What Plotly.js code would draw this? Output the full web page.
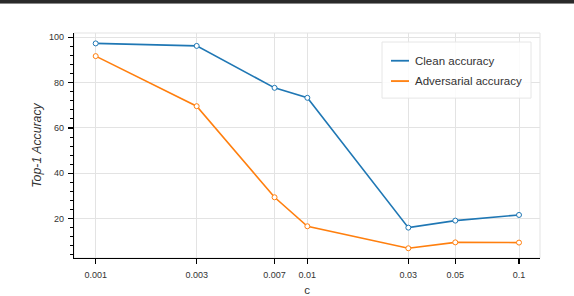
<!DOCTYPE html>
<html>
<head>
<meta charset="utf-8">
<script src="https://cdn.plot.ly/plotly-3.0.1.min.js"></script>
<style>
html,body{margin:0;padding:0;background:#fff;}
#wrap{position:relative;width:574px;height:296px;}
#bar{position:absolute;left:0;top:0;width:574px;height:3px;background:#2a2a2a;border-bottom:1px solid #888;z-index:5;}
#chart{width:574px;height:296px;}
</style>
</head>
<body>
<div id="wrap"><div id="bar"></div><div id="chart"></div></div>
<script>
const cValues = [0.001, 0.003, 0.007, 0.01, 0.03, 0.05, 0.1];
const tickLabels = ['0.001', '0.003', '0.007', '0.01', '0.03', '0.05', '0.1'];
const cleanAcc = [97.3, 96.2, 77.7, 73.3, 16.0, 19.1, 21.6];
const advAcc = [91.7, 69.6, 29.4, 16.6, 6.9, 9.5, 9.4];
const seriesNames = ['Clean accuracy', 'Adversarial accuracy'];
const colors = ['#1f77b4', '#ff7f0e'];

const W = 574, H = 296;
const L = 74, R = 540, T = 33, B = 257.7;
const px = x => (x - L) / (R - L);
const py = y => (B - y) / (B - T);

function trace(y, i) {
  return {
    x: cValues, y: y, name: seriesNames[i], type: 'scatter', mode: 'lines+markers',
    line: {color: colors[i], width: 1.6},
    marker: {symbol: 'circle', size: 5, color: '#ffffff', line: {color: colors[i], width: 1}},
    showlegend: false, cliponaxis: false
  };
}

const font = {family: 'Liberation Sans, Arial, sans-serif', color: '#333'};

const layout = {
  width: W, height: H,
  margin: {l: L, r: W - R, t: T, b: H - B, pad: 0},
  paper_bgcolor: '#fff', plot_bgcolor: '#fff',
  font: font,
  xaxis: {
    type: 'log', range: [-3.1025, -0.9008],
    tickvals: cValues, ticktext: tickLabels,
    showgrid: true, gridcolor: '#e3e3e3', gridwidth: 1,
    zeroline: false, showline: true, linecolor: '#000', linewidth: 1.2,
    ticks: 'outside', ticklen: 5, tickcolor: '#000', tickwidth: 1.2,
    tickfont: {family: font.family, size: 9, color: '#333'},
    ticklabelstandoff: 3,
    title: {text: 'c', font: {family: font.family, size: 11.5, color: '#333'}, standoff: 10}
  },
  yaxis: {
    range: [2.6, 101.9],
    tickvals: [20, 40, 60, 80, 100],
    showgrid: true, gridcolor: '#e3e3e3', gridwidth: 1,
    zeroline: false, showline: true, linecolor: '#000', linewidth: 1.2,
    ticks: 'outside', ticklen: 5, tickcolor: '#000', tickwidth: 1.2,
    minor: {dtick: 4, tick0: 0, ticks: 'outside', ticklen: 2.5, tickcolor: '#000', tickwidth: 1, showgrid: false},
    tickfont: {family: font.family, size: 9, color: '#333'},
    ticklabelstandoff: 2,
    title: {text: '<i>Top-1 Accuracy</i>', font: {family: font.family, size: 12.3, color: '#333'}, standoff: 4}
  },
  shapes: [
    {type: 'rect', xref: 'paper', yref: 'paper', x0: 0, x1: 1, y0: 0, y1: 1,
     line: {color: '#e3e3e3', width: 1}, layer: 'below'},
    {type: 'rect', xref: 'paper', yref: 'paper', x0: px(382), x1: px(531), y0: py(98), y1: py(42),
     line: {color: '#e6e6e6', width: 1}, fillcolor: 'rgba(255,255,255,0.85)', layer: 'above'},
    {type: 'line', xref: 'paper', yref: 'paper', x0: px(391), x1: px(409), y0: py(60.7), y1: py(60.7),
     line: {color: colors[0], width: 1.8}},
    {type: 'line', xref: 'paper', yref: 'paper', x0: px(391), x1: px(409), y0: py(81), y1: py(81),
     line: {color: colors[1], width: 1.8}}
  ],
  annotations: [
    {xref: 'paper', yref: 'paper', x: px(413), y: py(60.7), xanchor: 'left', yanchor: 'middle',
     text: seriesNames[0], showarrow: false, font: {family: font.family, size: 11.5, color: '#333'}},
    {xref: 'paper', yref: 'paper', x: px(413), y: py(81), xanchor: 'left', yanchor: 'middle',
     text: seriesNames[1], showarrow: false, font: {family: font.family, size: 11.5, color: '#333'}}
  ]
};

Plotly.newPlot('chart', [trace(cleanAcc, 0), trace(advAcc, 1)], layout, {displayModeBar: false, staticPlot: true});
</script>
</body>
</html>
